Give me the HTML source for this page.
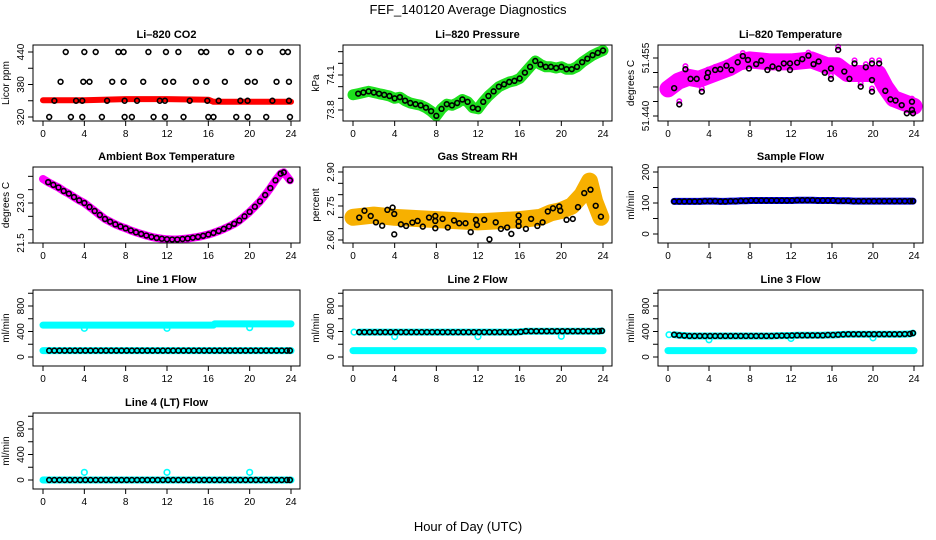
<!DOCTYPE html>
<html><head><meta charset="utf-8"><style>
html,body{margin:0;padding:0;background:#fff;}
svg{display:block;font-family:"Liberation Sans",Arial,sans-serif;}
</style></head><body>
<svg id="chart" width="936" height="540" viewBox="0 0 936 540">
<text x="468" y="14" text-anchor="middle" font-size="13">FEF_140120  Average Diagnostics</text>
<text x="468" y="531" text-anchor="middle" font-size="13">Hour of Day (UTC)</text>
</svg>
<script>
// ---- shared hours for half-hourly averages ----
const halfHours = [0.6,1.1,1.6,2.1,2.6,3.1,3.6,4.1,4.6,5.1,5.6,6.1,6.6,7.1,7.6,8.1,8.6,9.1,9.6,10.1,10.6,11.1,11.6,12.1,12.6,13.1,13.6,14.1,14.6,15.1,15.6,16.1,16.6,17.1,17.6,18.1,18.6,19.1,19.6,20.1,20.6,21.1,21.6,22.1,22.6,23.1,23.6,23.9];
const xTicks = [0,4,8,12,16,20,24];

// ---- CO2 ----
const co2BandHours = [0,4,8,12,16,16.5,24];
const co2BandValues = [351,351,353,353,352,348,348];
const co2Hours = [2.2,4.0,5.1,7.3,7.8,10.2,11.9,13.1,15.3,15.8,18.2,19.9,21.0,23.2,23.7, 1.7,3.9,4.5,6.7,7.8,9.7,11.8,12.6,14.8,15.8,17.6,19.8,20.5,22.6,23.8, 1.1,3.2,3.8,6.2,7.9,9.1,11.3,11.8,14.2,15.9,17.0,19.1,19.8,22.2,23.8, 0.6,2.7,3.8,5.7,7.9,8.6,10.7,11.8,13.6,16.0,16.5,18.7,19.8,21.6,23.9];
const co2Values = [440,440,440,440,440,440,440,440,440,440,440,440,440,440,440, 385,385,385,385,385,385,385,385,385,385,385,385,385,385,385, 350,350,350,350,350,350,350,350,350,350,350,350,350,350,350, 320,320,320,320,320,320,320,320,320,320,320,320,320,320,320];

// ---- Pressure ----
const presHours = [0,0.5,1,1.5,2,2.5,3,3.5,4,4.5,5,5.5,6,6.5,7,7.5,8,8.5,9,9.5,10,10.5,11,11.5,12,12.5,13,13.5,14,14.5,15,15.5,16,16.5,17,17.5,18,18.5,19,19.5,20,20.5,21,21.5,22,22.5,23,23.5,24];
const presValues = [73.93,73.94,73.95,73.96,73.95,73.94,73.93,73.92,73.90,73.91,73.88,73.86,73.85,73.84,73.82,73.79,73.75,73.81,73.85,73.84,73.86,73.89,73.87,73.82,73.81,73.87,73.92,73.96,74.00,74.02,74.04,74.05,74.07,74.12,74.17,74.22,74.19,74.17,74.17,74.16,74.17,74.15,74.15,74.17,74.21,74.24,74.27,74.29,74.31];

// ---- Li-820 temperature ----
const ltBandHours = [0,1,2,3,4,5,6,7,8,10,12,14,15.5,16.5,17.5,19,20.5,21.2,22,23,24];
const ltBandValues = [51.4470,51.4490,51.4500,51.4495,51.4505,51.4515,51.4525,51.4540,51.4545,51.4540,51.4540,51.4545,51.4530,51.4530,51.4510,51.4510,51.4510,51.4475,51.4445,51.4435,51.4425];
const ltHours = [0.6,1.1,1.7,2.2,2.8,3.3,3.8,3.9,4.6,5.1,5.7,6.2,6.8,7.3,7.8,7.9,8.6,9.1,9.7,10.2,10.8,11.3,11.9,11.9,12.6,13.1,13.7,14.2,14.7,15.3,15.9,15.9,16.6,17.2,17.7,18.2,18.8,19.3,19.9,19.9,19.9,20.6,21.2,21.7,22.2,22.8,23.3,23.8,23.8,23.9];
const ltValues = [51.4472,51.4430,51.4521,51.4496,51.4496,51.4463,51.4500,51.4512,51.4519,51.4521,51.4530,51.4519,51.4539,51.4555,51.4545,51.4523,51.4534,51.4543,51.4519,51.4528,51.4523,51.4536,51.4536,51.4519,51.4538,51.4547,51.4556,51.4534,51.4541,51.4512,51.4523,51.4496,51.4571,51.4515,51.4496,51.4536,51.4476,51.4526,51.4493,51.4536,51.4463,51.4536,51.4465,51.4443,51.4440,51.4428,51.4407,51.4437,51.4416,51.4407];

// ---- Ambient box temperature ----
const ambHours = [0,0.5,1,1.5,2,2.5,3,3.5,4,4.5,5,5.5,6,6.5,7,7.5,8,8.5,9,9.5,10,10.5,11,11.5,12,12.5,13,13.5,14,14.5,15,15.5,16,16.5,17,17.5,18,18.5,19,19.5,20,20.5,21,21.5,22,22.5,23,23.3,23.9];
const ambValues = [23.9,23.78,23.68,23.58,23.45,23.35,23.22,23.1,23.0,22.85,22.7,22.55,22.4,22.3,22.2,22.12,22.05,21.97,21.9,21.84,21.78,21.73,21.69,21.66,21.64,21.63,21.63,21.65,21.67,21.7,21.73,21.77,21.82,21.88,21.95,22.03,22.12,22.22,22.34,22.5,22.67,22.86,23.06,23.3,23.56,23.85,24.1,24.15,23.85];

// ---- Gas stream RH ----
const rhBandHours = [0,2,4,8,12,16,18,19,20,21,22,22.7,23.2,23.8];
const rhBandValues = [2.70,2.71,2.70,2.69,2.68,2.69,2.70,2.72,2.73,2.75,2.80,2.86,2.77,2.70];
const rhHours = [0.6,1.1,1.7,2.2,2.8,3.3,3.8,3.96,3.96,4.6,5.1,5.7,6.2,6.7,7.3,7.9,7.9,7.9,8.6,9.1,9.7,10.2,10.8,11.3,11.8,11.9,12.6,13.1,13.7,14.2,14.8,15.2,15.9,15.9,15.9,16.6,17.1,17.7,18.2,18.7,19.2,19.8,19.9,20.5,21.1,21.6,22.2,22.8,23.3,23.8];
const rhValues = [2.699,2.729,2.706,2.678,2.663,2.733,2.743,2.715,2.625,2.669,2.662,2.677,2.684,2.659,2.699,2.706,2.684,2.652,2.693,2.655,2.686,2.674,2.674,2.635,2.689,2.666,2.689,2.603,2.678,2.649,2.655,2.627,2.708,2.662,2.681,2.649,2.693,2.662,2.678,2.726,2.740,2.748,2.729,2.689,2.693,2.745,2.807,2.822,2.751,2.703];

// ---- Sample flow ----
const sfValues = [105,105,105,105,105,105,106,106,106,105,105,106,106,107,107,108,108,108,108,108,108,108,108,108,109,109,109,109,108,108,108,108,107,107,107,106,106,106,106,106,106,106,106,106,106,106,106,106];

// ---- Line flows ----
const l1Black = [100,100,100,100,100,100,100,100,100,100,100,100,100,100,100,100,100,100,100,100,100,100,100,100,100,100,100,100,100,100,100,100,100,100,100,100,100,100,100,100,100,100,100,100,100,100,100,100];
const l1CyanHours = [0,16.5,16.6,24];
const l1CyanValues = [500,500,520,520];
const l1DipHours = [4,12,20];
const l1DipValues = [450,450,460];

const l2Black = [390,390,390,390,390,390,390,390,390,390,390,390,390,390,390,390,390,390,390,390,390,390,390,390,390,390,390,390,390,390,390,395,405,405,405,405,405,405,405,405,405,405,405,405,405,405,405,410];
const l2DipHours = [0.1,4,12,20];
const l2DipValues = [390,320,320,325];

const l3Black = [350,340,335,330,330,330,330,330,330,330,330,330,330,330,330,330,330,330,330,330,332,335,335,338,340,340,340,340,340,340,345,345,350,355,358,358,358,358,358,358,358,358,358,358,358,360,362,375];
const l3DipHours = [0.1,4,12,20];
const l3DipValues = [350,270,290,300];

const l4Black = [0,0,0,0,0,0,0,0,0,0,0,0,0,0,0,0,0,0,0,0,0,0,0,0,0,0,0,0,0,0,0,0,0,0,0,0,0,0,0,0,0,0,0,0,0,0,0,0];
const l4DipHours = [0.1,4,12,20];
const l4DipValues = [0,120,120,120];

const flowBandHours = [0,24];
const flowLowValues = [100,100];
const l4LowValues = [0,0];

// ---------------- drawing ----------------
const NS = "http://www.w3.org/2000/svg";
const svg = document.getElementById('chart');
const colL = [33,343,658], colR = [300,612,923];
const rowT = [45,167,290,413], BOXH = 76;

function mk(tag, parent, attrs){
  const e = document.createElementNS(NS, tag);
  for (const k in attrs) e.setAttribute(k, attrs[k]);
  parent.appendChild(e);
  return e;
}

function panel(name, col, row, title, ylab, vA, yA, vB, yB, yticks, ylabels){
  const g = mk('g', svg, {});
  
  
  const l = colL[col], r = colR[col], t = rowT[row], b = t + BOXH;
  const x0 = l + 10, x1 = r - 9;
  const X = h => x0 + h * (x1 - x0) / 24;
  const Y = v => yA + (v - vA) * (yB - yA) / (vB - vA);
  const tt = mk('text', g, {x:(l+r)/2, y:t-7, 'text-anchor':'middle', 'font-size':11, 'font-weight':'bold'});
  tt.textContent = title;
  
  
  const yl = mk('text', g, {x:0, y:0, 'text-anchor':'middle', 'font-size':10, transform:`translate(${l-24},${(t+b)/2}) rotate(-90)`});
  yl.textContent = ylab;
  
  
  const xa = mk('g', g, {});
  
  
  mk('line', xa, {x1:X(0), x2:X(24), y1:b, y2:b, stroke:'#000'});
  xTicks.forEach(h => {
    mk('line', xa, {x1:X(h), x2:X(h), y1:b, y2:b+5, stroke:'#000'});
    const tx = mk('text', xa, {x:X(h), y:b+16, 'text-anchor':'middle', 'font-size':10});
    tx.textContent = h;
    
    
  });
  const ya = mk('g', g, {});
  
  
  yticks.forEach(v => {
    const yy = Y(v);
    mk('line', ya, {x1:l-5, x2:l, y1:yy, y2:yy, stroke:'#000'});
  });
  mk('line', ya, {x1:l, x2:l, y1:Y(yticks[0]), y2:Y(yticks[yticks.length-1]), stroke:'#000'});
  ylabels.forEach(v => {
    const txt = typeof v === 'number' ? v : v[1];
    const val = typeof v === 'number' ? v : v[0];
    const lab = mk('text', ya, {x:0, y:0, 'text-anchor':'middle', 'font-size':10, transform:`translate(${l-9},${Y(val)}) rotate(-90)`});
    lab.textContent = txt;
    
    
  });
  const plot = mk('g', g, {});
  
  
  const box = mk('rect', g, {x:l, y:t, width:r-l, height:BOXH, fill:'none', stroke:'#000'});
  
  
  return {X, Y, plot};
}

function band(p, hours, vals, color, w, nm){
  const pts = hours.map((h,i)=>p.X(h).toFixed(1)+','+p.Y(vals[i]).toFixed(1)).join(' ');
  const pl = mk('polyline', p.plot, {points:pts, fill:'none', stroke:color, 'stroke-width':w, 'stroke-linecap':'round', 'stroke-linejoin':'round'});
  
  
}
function pts(p, hours, vals, color, nm, r){
  hours.forEach((h,i)=>{
    const c = mk('circle', p.plot, {cx:p.X(h), cy:p.Y(vals[i]), r:r||2.4, fill:'none', stroke:color, 'stroke-width':1.6});
    
    
  });
}

let p = panel('co2', 0, 0, 'Li\u2013820 CO2', 'Licor ppm', 440, 52, 320, 117, [320,350,380,410,440], [[440,'440'],[380,'380'],[320,'320']]);
band(p, co2BandHours, co2BandValues, '#ff0000', 6, 'co2-band');
pts(p, co2Hours, co2Values, '#000', 'co2-point');

p = panel('pressure', 1, 0, 'Li\u2013820 Pressure', 'kPa', 74.1, 75, 73.8, 110, [73.8,73.9,74.0,74.1,74.2,74.3], [[73.8,'73.8'],[74.1,'74.1']]);
band(p, presHours, presValues, '#1ee01e', 11, 'pressure-band');
pts(p, presHours.slice(1), presValues.slice(1), '#000', 'pressure-point');

p = panel('li820-temp', 2, 0, 'Li\u2013820 Temperature', 'degrees C', 51.455, 58, 51.440, 116, [51.44,51.44375,51.4475,51.45125,51.455], [[51.455,'51.455'],[51.44,'51.440']]);
band(p, ltBandHours, ltBandValues, '#ff00ff', 17, 'li820-temp-band');
pts(p, ltHours, ltValues.map(v=>v+0.0008), '#ff00ff', 'li820-temp-raw-point', 2.2);
pts(p, ltHours, ltValues, '#000', 'li820-temp-point');

p = panel('ambient-temp', 0, 1, 'Ambient Box Temperature', 'degrees C', 23.0, 203, 21.5, 243, [21.5,22.0,22.5,23.0,23.5,24.0], [[21.5,'21.5'],[23.0,'23.0']]);
band(p, ambHours, ambValues, '#ff00ff', 8, 'ambient-band');
pts(p, ambHours.slice(1), ambValues.slice(1), '#000', 'ambient-point');

p = panel('gas-rh', 1, 1, 'Gas Stream RH', 'percent', 2.90, 172, 2.60, 240, [2.60,2.65,2.70,2.75,2.80,2.85,2.90], [[2.60,'2.60'],[2.75,'2.75'],[2.90,'2.90']]);
band(p, rhBandHours, rhBandValues, '#f7b000', 17, 'gas-rh-band');
pts(p, rhHours, rhValues, '#000', 'gas-rh-point');

p = panel('sample-flow', 2, 1, 'Sample Flow', 'ml/min', 200, 172, 0, 234, [0,50,100,150,200], [0,100,200]);
band(p, halfHours, sfValues, '#0000ff', 7, 'sample-flow-band');
pts(p, halfHours, sfValues, '#000', 'sample-flow-point');

const flowTicks = [0,200,400,600,800,1000], flowLabels = [0,400,800];
function flowPanel(name, col, row, title, black, lowVals, bandHigh, dipH, dipV){
  const b = rowT[row] + BOXH;
  const q = panel(name, col, row, title, 'ml/min', 0, b-9, 400, b-34.5, flowTicks, flowLabels);
  band(q, flowBandHours, lowVals, '#00ffff', 7, name + '-cyan-band-low');
  if (bandHigh) band(q, bandHigh[0], bandHigh[1], '#00ffff', 7, name + '-cyan-band-high');
  pts(q, dipH, dipV, '#00ffff', name + '-cyan-point', 2.8);
  pts(q, halfHours, black, '#000', name + '-point');
}
flowPanel('line1-flow', 0, 2, 'Line 1 Flow', l1Black, flowLowValues, [l1CyanHours, l1CyanValues], l1DipHours, l1DipValues);
flowPanel('line2-flow', 1, 2, 'Line 2 Flow', l2Black, flowLowValues, [halfHours, l2Black], l2DipHours, l2DipValues);
flowPanel('line3-flow', 2, 2, 'Line 3 Flow', l3Black, flowLowValues, [halfHours, l3Black], l3DipHours, l3DipValues);
flowPanel('line4-flow', 0, 3, 'Line 4 (LT) Flow', l4Black, l4LowValues, null, l4DipHours, l4DipValues);
</script>
</body></html>
